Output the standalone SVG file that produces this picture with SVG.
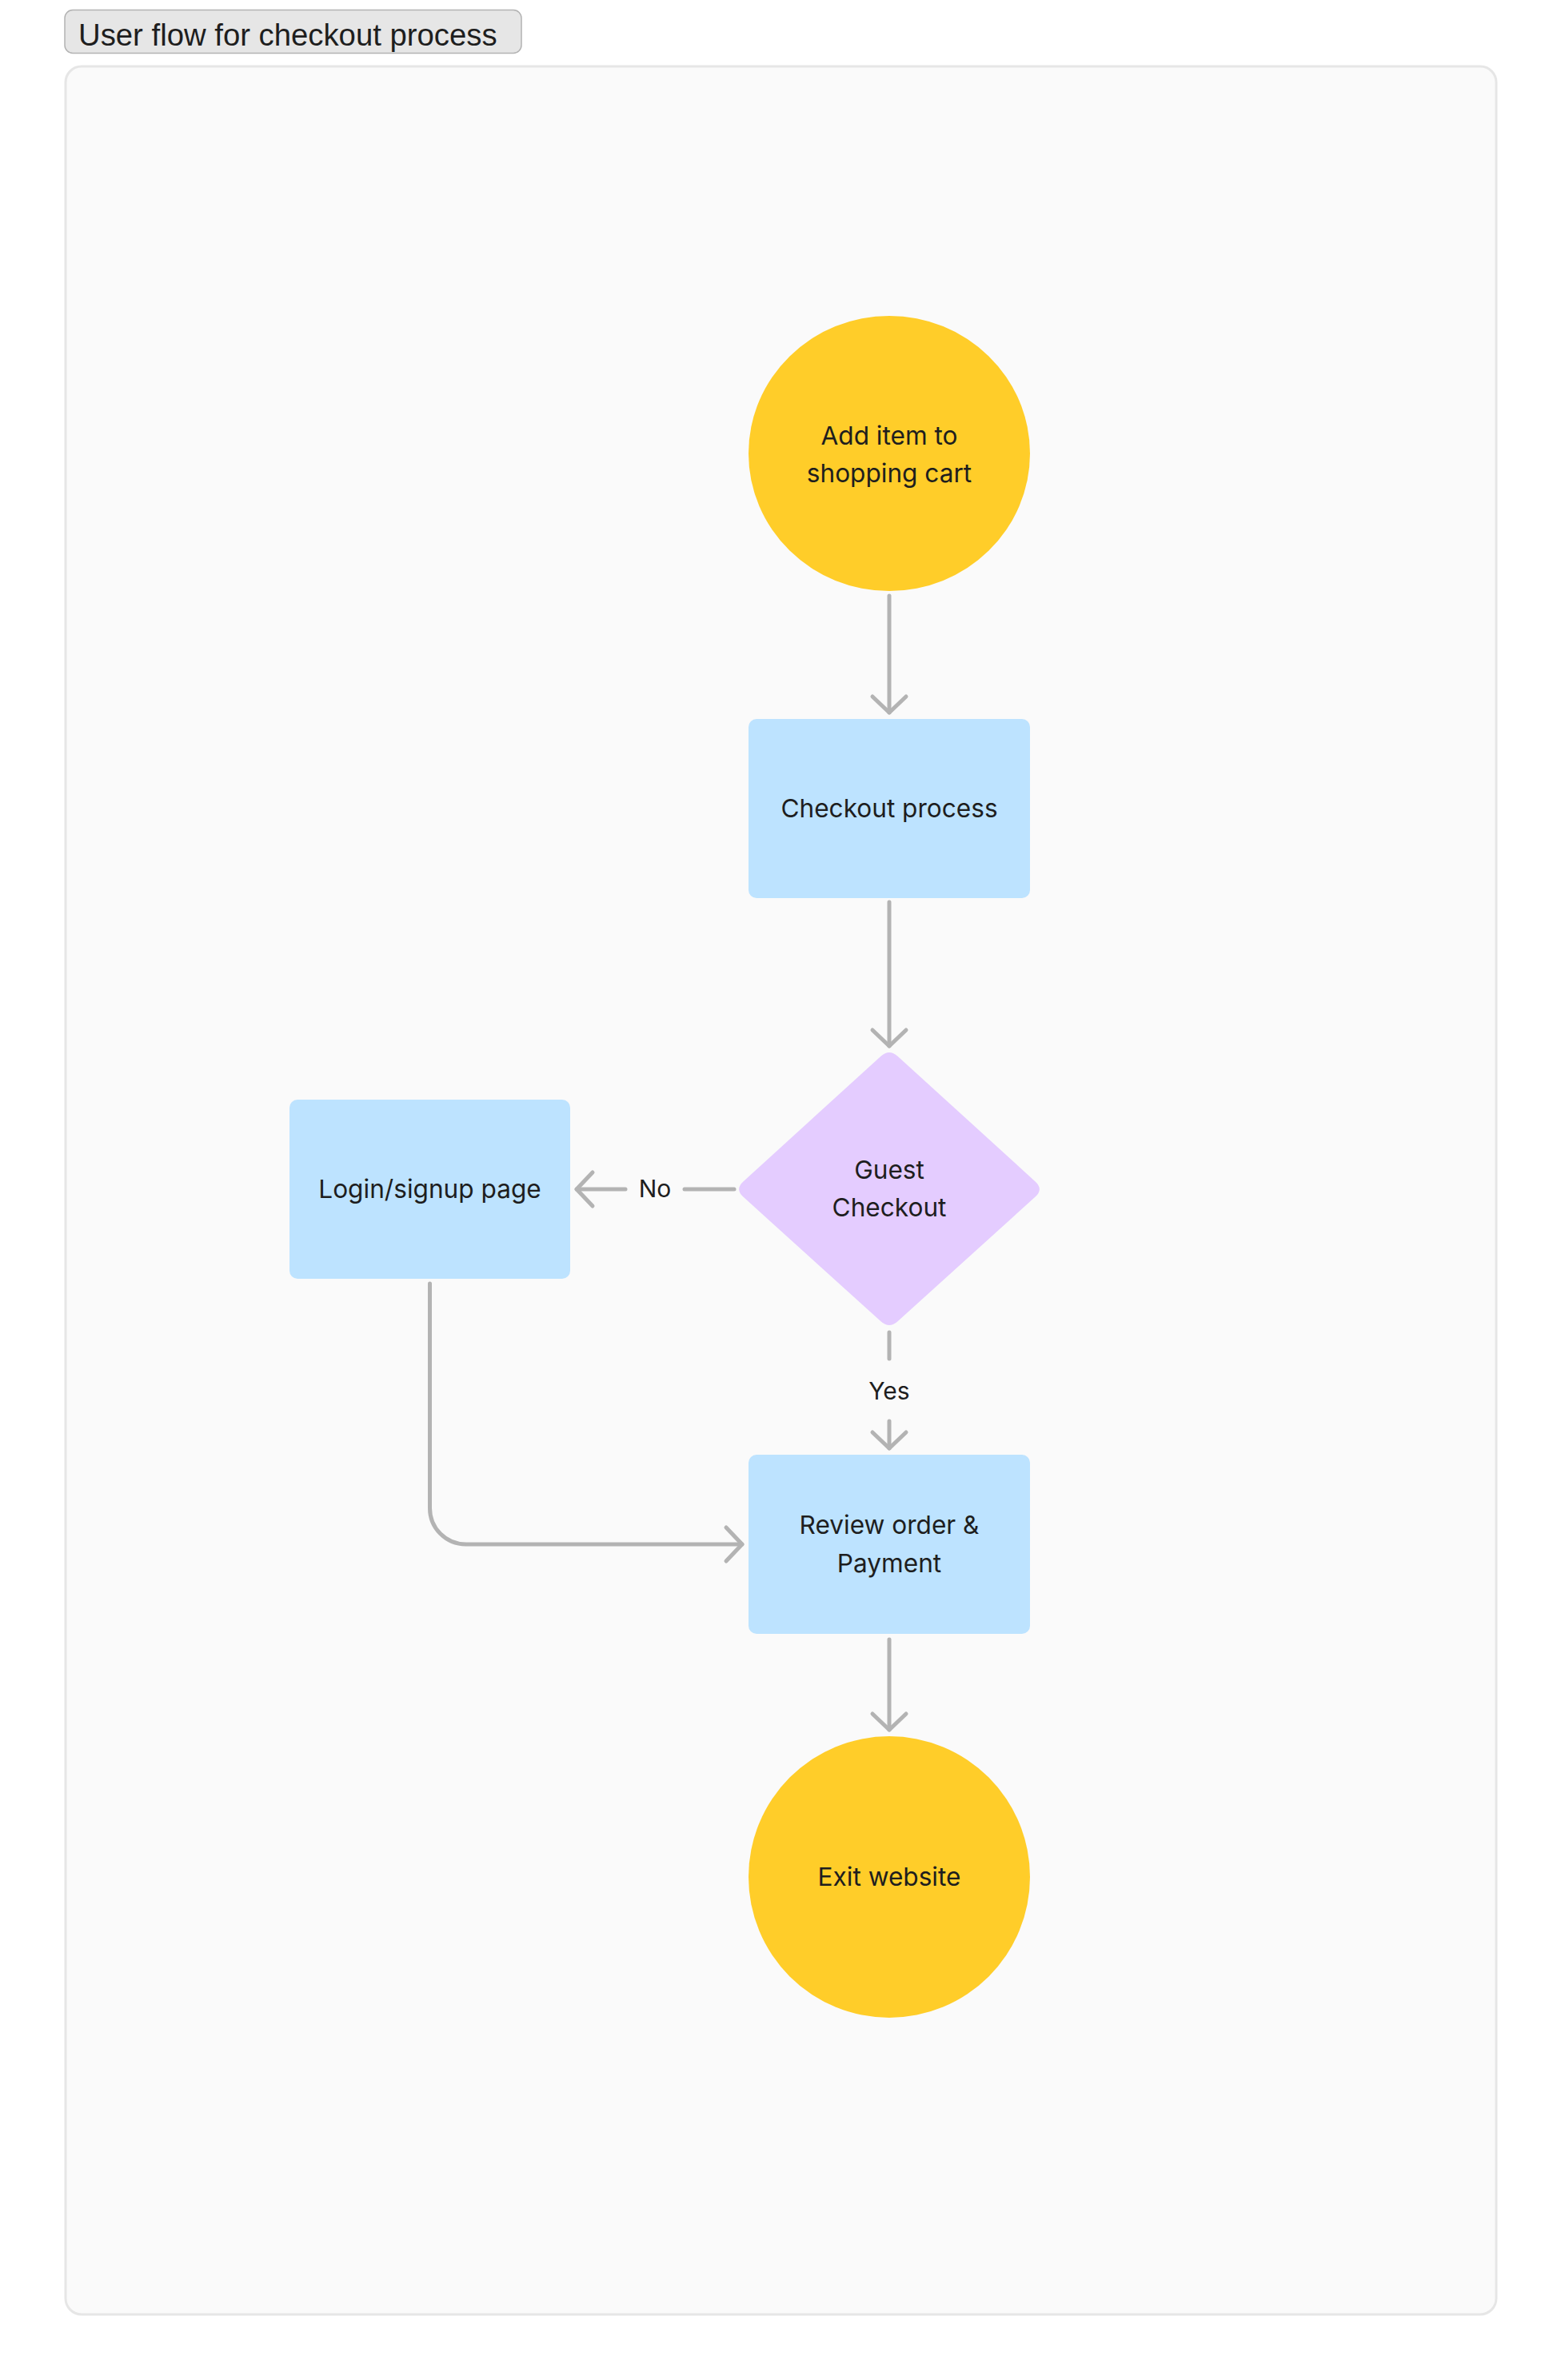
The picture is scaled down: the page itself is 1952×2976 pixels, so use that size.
<svg xmlns="http://www.w3.org/2000/svg" width="1952" height="2976" viewBox="0 0 1952 2976">
  <defs>
    <style>
      .lbl { font-family: Inter, "Noto Sans", "Liberation Sans", sans-serif; font-size: 31.6px; fill: #1e1e1e; text-anchor: middle; }
      .elbl { font-family: Inter, "Noto Sans", "Liberation Sans", sans-serif; font-size: 30px; fill: #1e1e1e; text-anchor: middle; }
      .title { font-family: "Liberation Sans", Arial, sans-serif; font-size: 38.3px; fill: #1e1e1e; }
      .term { fill: #ffcd29; }
      .proc { fill: #bde3ff; }
      .dec { fill: #e4ccff; }
      .conn { fill: none; stroke: #b3b3b3; stroke-width: 5; stroke-linecap: round; stroke-linejoin: round; }
    </style>
    <marker id="arrow" markerUnits="userSpaceOnUse" viewBox="-30 -30 40 60" markerWidth="40" markerHeight="60" refX="0" refY="0" orient="auto">
      <path d="M-20,-21 L0,0 L-20,21" fill="none" stroke="#b3b3b3" stroke-width="5" stroke-linecap="round" stroke-linejoin="round"/>
    </marker>
  </defs>
  <rect width="1952" height="2976" fill="#ffffff"/>

  <g id="frame">
    <rect x="82" y="83" width="1789" height="2811" rx="20" fill="#fafafa" stroke="#e6e6e6" stroke-width="3"/>
  </g>
  <g id="title">
    <rect x="81" y="12.5" width="571" height="54" rx="10" fill="#e6e6e6" stroke="#b3b3b3" stroke-width="1.5"/>
    <text class="title" x="98" y="57">User flow for checkout process</text>
  </g>

  <g id="connectors">
    <path class="conn" d="M1112,745 V891" marker-end="url(#arrow)"/>
    <path class="conn" d="M1112,1128 V1308" marker-end="url(#arrow)"/>
    <path class="conn" d="M918,1487 H856"/>
    <path class="conn" d="M782,1487 H721" marker-end="url(#arrow)"/>
    <text class="elbl" x="819" y="1497">No</text>
    <path class="conn" d="M1112,1666 V1699"/>
    <path class="conn" d="M1112,1777 V1811" marker-end="url(#arrow)"/>
    <text class="elbl" x="1112" y="1750">Yes</text>
    <path class="conn" d="M537.5,1605 V1886 A45,45 0 0 0 582.5,1931 H928" marker-end="url(#arrow)"/>
    <path class="conn" d="M1112,2050 V2163" marker-end="url(#arrow)"/>
  </g>

  <g id="node-add-item">
    <ellipse class="term" cx="1112" cy="567" rx="176" ry="172"/>
    <text class="lbl" x="1112" y="556">Add item to</text>
    <text class="lbl" x="1112" y="603">shopping cart</text>
  </g>

  <g id="node-checkout">
    <rect class="proc" x="936" y="899" width="352" height="224" rx="10"/>
    <text class="lbl" x="1112" y="1022">Checkout process</text>
  </g>

  <g id="node-guest">
    <path class="dec" transform="translate(1112,1487) scale(1.022) translate(-1112,-1487)" d="M1101.7,1324.4 Q1112,1315 1122.3,1324.4 L1290.7,1477.6 Q1301,1487 1290.7,1496.4 L1122.3,1648.6 Q1112,1658 1101.7,1648.6 L933.3,1496.4 Q923,1487 933.3,1477.6 Z"/>
    <text class="lbl" x="1112" y="1474">Guest</text>
    <text class="lbl" x="1112" y="1521">Checkout</text>
  </g>

  <g id="node-login">
    <rect class="proc" x="362" y="1375" width="351" height="224" rx="10"/>
    <text class="lbl" x="537.5" y="1498">Login/signup page</text>
  </g>

  <g id="node-review">
    <rect class="proc" x="936" y="1819" width="352" height="224" rx="10"/>
    <text class="lbl" x="1112" y="1918">Review order &amp;</text>
    <text class="lbl" x="1112" y="1966">Payment</text>
  </g>

  <g id="node-exit">
    <circle class="term" cx="1112" cy="2347" r="176"/>
    <text class="lbl" x="1112" y="2358">Exit website</text>
  </g>
</svg>
